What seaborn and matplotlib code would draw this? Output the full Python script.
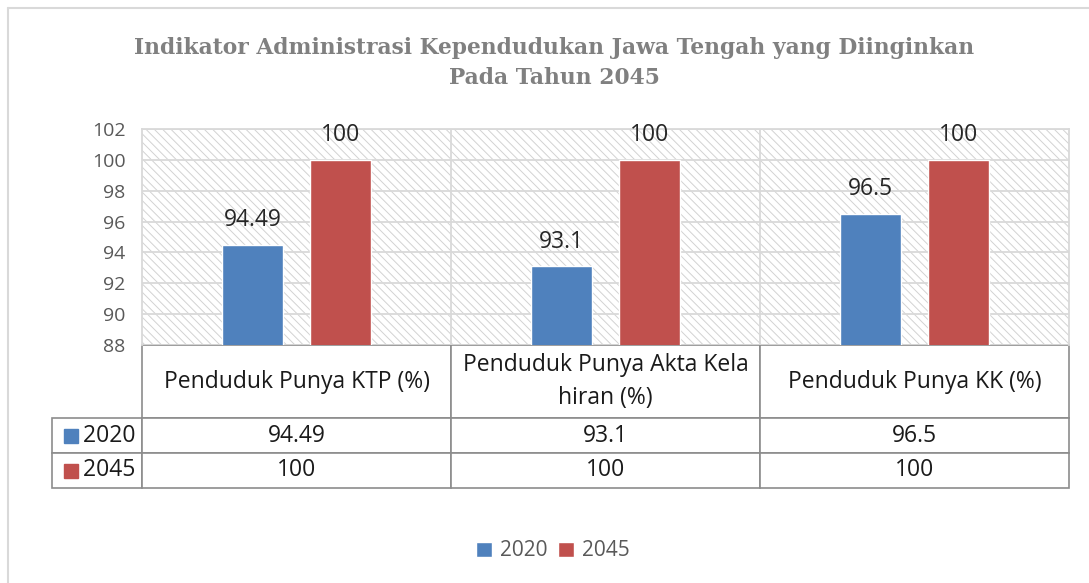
import matplotlib
matplotlib.use("Agg")
import matplotlib.pyplot as plt
from matplotlib.patches import Rectangle
from matplotlib.lines import Line2D
import seaborn as sns
import pandas as pd

# ---- data ----
categories = ["Penduduk Punya KTP (%)",
              "Penduduk Punya Akta Kelahiran (%)",
              "Penduduk Punya KK (%)"]
header_labels = ["Penduduk Punya KTP (%)",
                 "Penduduk Punya Akta Kela\nhiran (%)",
                 "Penduduk Punya KK (%)"]
years = ["2020", "2045"]
values_2020 = [94.49, 93.1, 96.5]
values_2045 = [100, 100, 100]
y_ticks = [88, 90, 92, 94, 96, 98, 100, 102]
title = "Indikator Administrasi Kependudukan Jawa Tengah yang Diinginkan\nPada Tahun 2045"

BLUE = "#4F81BD"
RED = "#C0504D"
GRID = "#D9D9D9"
TABLE_EDGE = "#8C8C8C"

df = pd.DataFrame({
    "kategori": categories * 2,
    "tahun": [years[0]] * 3 + [years[1]] * 3,
    "nilai": values_2020 + values_2045,
})

sns.set_theme(style="white")
plt.rcParams["font.family"] = ["Open Sans", "DejaVu Sans"]
plt.rcParams["hatch.linewidth"] = 0.7

W, H = 1089, 583
fig = plt.figure(figsize=(W / 100, H / 100), dpi=100)
ax_l, ax_r, ax_t, ax_b = 142, 1069, 129, 345
ax = fig.add_axes([ax_l / W, (H - ax_b) / H, (ax_r - ax_l) / W, (ax_b - ax_t) / H])

# hatched background of the plot area
ax.add_patch(Rectangle((0, 0), 1, 1, transform=ax.transAxes, facecolor="white",
                       edgecolor="#D2D2D2", hatch=chr(92) * 4, linewidth=0, zorder=0))

sns.barplot(data=df, x="kategori", y="nilai", hue="tahun", palette=[BLUE, RED],
            width=0.57, gap=0.3, saturation=1, ax=ax, zorder=3, legend=True)

ax.set_ylim(88, 102)
ax.set_yticks(y_ticks)
ax.set_xlim(-0.5, 2.5)
ax.set_xlabel("")
ax.set_ylabel("")
ax.set_xticks([])
ax.tick_params(axis="y", length=0, pad=12, labelsize=14, labelcolor="#595959")
ax.yaxis.grid(True, color=GRID, linewidth=1.3, zorder=1)
ax.set_axisbelow(True)
for xv in [0.5, 1.5]:
    ax.axvline(xv, color=GRID, linewidth=1.3, zorder=1)
for side in ["left", "right", "top"]:
    ax.spines[side].set_color(GRID)
    ax.spines[side].set_linewidth(1.3)
ax.spines["bottom"].set_visible(False)

# bar value labels
for cont, vals in zip(ax.containers, [values_2020, values_2045]):
    ax.bar_label(cont, labels=[f"{v:g}" for v in vals], padding=9,
                 fontsize=16.5, color="#262626")

# legend
handles, labels = ax.get_legend_handles_labels()
ax.get_legend().remove()
fig.legend(handles, labels, loc="center", bbox_to_anchor=(553 / W, 1 - 551 / H),
           ncol=2, frameon=False, fontsize=15, labelcolor="#595959",
           handlelength=0.75, handleheight=0.75, handletextpad=0.4, columnspacing=0.5)

# data table under the axes: first column holds the series names
tbl_left, tbl_bottom = 52, 488
row_label_w, col_w = 90, (ax_r - ax_l) / 3
header_h, row_h = 73, 35
axw, axh = ax_r - ax_l, ax_b - ax_t
cell_text = [["    " + years[0]] + [f"{v:g}" for v in values_2020],
             ["    " + years[1]] + [f"{v:g}" for v in values_2045]]
tbl = ax.table(cellText=cell_text, colLabels=[""] + header_labels, cellLoc="center",
               bbox=[(tbl_left - ax_l) / axw, -(tbl_bottom - ax_b) / axh,
                     (ax_r - tbl_left) / axw, (tbl_bottom - ax_b) / axh])
tbl.auto_set_font_size(False)
tbl.set_fontsize(16.5)
for (r, c), cell in tbl.get_celld().items():
    cell.set_edgecolor(TABLE_EDGE)
    cell.set_linewidth(1.2)
    cell.set_width(row_label_w if c == 0 else col_w)
    cell.set_height(header_h if r == 0 else row_h)
    cell.get_text().set_color("#1A1A1A")
    cell.get_text().set_linespacing(1.45)
    if r == 0 and c == 0:
        cell.visible_edges = "open"
        cell.set_facecolor("none")

# colour keys in the table row labels
for i, col in enumerate([BLUE, RED]):
    yc = -(header_h + row_h * (i + 0.5)) / axh
    ax.plot([(70.5 - ax_l) / axw], [yc], marker="s", markersize=10.5, color=col,
            transform=ax.transAxes, clip_on=False, zorder=5)

# title
fig.text(554 / W, 1 - 63 / H, title, ha="center", va="center", fontsize=15.7,
         fontweight="bold", color="#808080", family=["DejaVu Serif"],
         linespacing=1.5)

# outer border (top + left)
fig.add_artist(Line2D([8 / W, 1], [1 - 8 / H, 1 - 8 / H], color=GRID, linewidth=1.5))
fig.add_artist(Line2D([8 / W, 8 / W], [0, 1 - 8 / H], color=GRID, linewidth=1.5))

fig.savefig("out.png", dpi=100)
